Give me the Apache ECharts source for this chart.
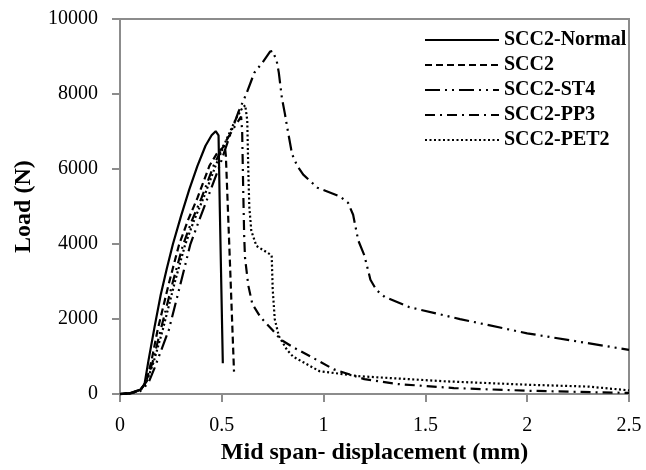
<!DOCTYPE html>
<html>
<head>
<meta charset="utf-8">
<script src="https://cdn.jsdelivr.net/npm/echarts@6/dist/echarts.min.js"></script>
<style>
  html, body { margin: 0; padding: 0; background: #fff; }
  #chart { width: 646px; height: 470px; }
</style>
</head>
<body>
<div id="chart"></div>
<script>
// Load–deflection curves: [mid span displacement (mm), load (N)]
const seriesNames = ['SCC2-Normal', 'SCC2', 'SCC2-ST4', 'SCC2-PP3', 'SCC2-PET2'];

const scc2Normal = [
  [0, 0], [0.05, 30], [0.1, 120], [0.12, 250], [0.14, 900], [0.17, 1800],
  [0.2, 2650], [0.23, 3350], [0.26, 4000], [0.3, 4750], [0.34, 5450],
  [0.38, 6080], [0.42, 6620], [0.45, 6900], [0.47, 7010], [0.478, 7030],
  [0.484, 6900], [0.49, 5000], [0.505, 820]
];

const scc2 = [
  [0, 0], [0.05, 25], [0.1, 110], [0.13, 350], [0.155, 900], [0.185, 1715],
  [0.24, 2950], [0.29, 3984], [0.335, 4650], [0.38, 5224], [0.44, 6095],
  [0.48, 6450], [0.515, 6620], [0.52, 6350], [0.54, 3500], [0.56, 600]
];

const scc2ST4 = [
  [0, 0], [0.05, 20], [0.1, 80], [0.14, 300], [0.17, 700], [0.24, 1715],
  [0.3, 3000], [0.345, 3984], [0.39, 4650], [0.43, 5224], [0.49, 6095],
  [0.54, 6900], [0.58, 7500], [0.62, 8000], [0.66, 8570], [0.7, 8840],
  [0.737, 9130], [0.75, 9150], [0.77, 8870], [0.78, 8570], [0.795, 7900],
  [0.81, 7470], [0.82, 7150], [0.845, 6400], [0.87, 6090], [0.9, 5850],
  [0.97, 5500], [1.08, 5270], [1.12, 5100], [1.145, 4780], [1.17, 4100],
  [1.2, 3700], [1.23, 3050], [1.26, 2770], [1.3, 2590], [1.42, 2320],
  [1.67, 2000], [2.0, 1620], [2.25, 1400], [2.5, 1180]
];

const scc2PP3 = [
  [0, 0], [0.05, 20], [0.1, 100], [0.13, 330], [0.16, 850], [0.2, 1715],
  [0.26, 3000], [0.31, 3984], [0.355, 4650], [0.4, 5224], [0.46, 6095],
  [0.51, 6650], [0.56, 7100], [0.595, 7400], [0.6, 7000], [0.605, 5500],
  [0.61, 4200], [0.614, 3640], [0.63, 2900], [0.65, 2400], [0.69, 2050],
  [0.75, 1700], [0.79, 1450], [0.85, 1250], [0.92, 1050], [1.05, 660],
  [1.2, 400], [1.36, 270], [1.64, 160], [2.0, 90], [2.5, 30]
];

const scc2PET2 = [
  [0, 0], [0.05, 20], [0.1, 110], [0.13, 320], [0.165, 850], [0.21, 1715],
  [0.27, 3000], [0.32, 3984], [0.365, 4650], [0.41, 5224], [0.47, 6095],
  [0.52, 6750], [0.57, 7350], [0.6, 7620], [0.615, 7700], [0.625, 7300],
  [0.63, 6000], [0.635, 5000], [0.645, 4350], [0.67, 3950], [0.7, 3850],
  [0.745, 3700], [0.75, 2800], [0.76, 2000], [0.78, 1550], [0.82, 1180],
  [0.85, 1000], [0.9, 850], [0.98, 610], [1.18, 475], [1.6, 340],
  [2.0, 250], [2.3, 200], [2.5, 100]
];

const xTicks = { min: 0, max: 2.5, interval: 0.5 };
const yTicks = { min: 0, max: 10000, interval: 2000 };

const serif = "'Times New Roman', 'Liberation Serif', serif";
const frame = '#8c8c8c';

// dash pattern per curve: solid, dashed, long dash + two dots, dash-dot, dotted
const dashes = ['solid', [7, 4], [15, 5, 2, 5, 2, 5], [10, 5, 2, 5], [2, 2.5]];
const dataSets = [scc2Normal, scc2, scc2ST4, scc2PP3, scc2PET2];

const chart = echarts.init(document.getElementById('chart'), null, { renderer: 'canvas' });

chart.setOption({
  animation: false,
  backgroundColor: '#fff',
  grid: {
    left: 120, right: 17, top: 19, bottom: 72,
    show: true, borderColor: frame, borderWidth: 2
  },
  legend: {
    orient: 'vertical',
    left: 419, top: 25,
    itemWidth: 74, itemHeight: 14, itemGap: 5,
    data: seriesNames,
    itemStyle: { opacity: 0 },
    textStyle: {
      fontFamily: serif, fontWeight: 'bold', fontSize: 20,
      lineHeight: 20, color: '#000'
    }
  },
  xAxis: {
    type: 'value',
    min: xTicks.min, max: xTicks.max, interval: xTicks.interval,
    name: 'Mid span- displacement (mm)',
    nameLocation: 'middle', nameGap: 46,
    nameTextStyle: { fontFamily: serif, fontWeight: 'bold', fontSize: 24, color: '#000' },
    axisLine: { lineStyle: { color: frame, width: 2 } },
    axisTick: { show: true, length: 8, lineStyle: { color: frame, width: 2 } },
    axisLabel: { fontFamily: serif, fontSize: 20, color: '#000', margin: 22 },
    splitLine: { show: false }
  },
  yAxis: {
    type: 'value',
    min: yTicks.min, max: yTicks.max, interval: yTicks.interval,
    name: 'Load (N)',
    nameLocation: 'middle', nameGap: 84, nameRotate: 90,
    nameTextStyle: { fontFamily: serif, fontWeight: 'bold', fontSize: 24, color: '#000' },
    axisLine: { lineStyle: { color: frame, width: 2 } },
    axisTick: { show: true, length: 8, lineStyle: { color: frame, width: 2 } },
    axisLabel: {
      fontFamily: serif, fontSize: 20, color: '#000', margin: 22,
      formatter: (v) => String(v)
    },
    splitLine: { show: false }
  },
  series: seriesNames.map((name, i) => ({
    name: name,
    type: 'line',
    data: dataSets[i],
    showSymbol: false,
    symbol: 'none',
    smooth: false,
    color: '#000',
    lineStyle: { color: '#000', width: 2.2, type: dashes[i] }
  }))
});
</script>
</body>
</html>
